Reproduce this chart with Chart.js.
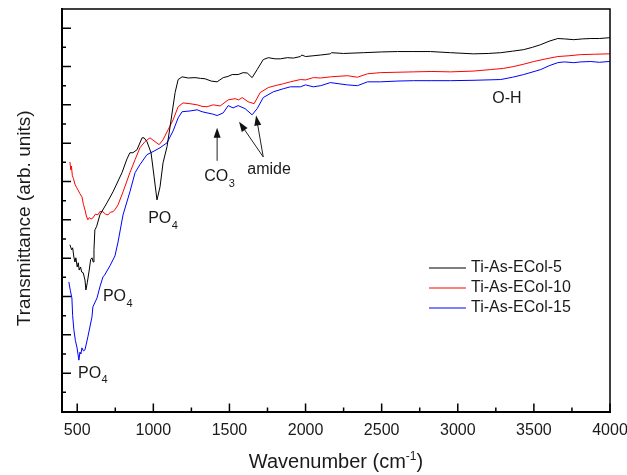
<!DOCTYPE html>
<html>
<head>
<meta charset="utf-8">
<script src="https://cdn.jsdelivr.net/npm/chart.js@4.4.0/dist/chart.umd.min.js"></script>
<style>
body { margin: 0; background: #fff; }
#wrap { width: 627px; height: 475px; }
</style>
</head>
<body>
<div id="wrap"><canvas id="myChart" width="627" height="475"></canvas></div>
<script>
// series labels
var nomes = ['Ti-As-ECol-5', 'Ti-As-ECol-10', 'Ti-As-ECol-15'];
var cores = ['#000000', '#ff0000', '#0000ff'];

// Ti-As-ECol-5
var wn5 = [452,463,470,478,485,491,500,507,513,522,529,539,551,557,566,579,588,597,605,610,616,627,649,695,735,794,827,846,866,893,926,939,958,985,1005,1024,1044,1064,1090,1110,1143,1163,1189,1230,1274,1310,1340,1380,1419,1459,1490,1518,1557,1590,1617,1649,1682,1722,1755,1800,1834,1880,1920,1966,1975,2000,2050,2100,2163,2170,2250,2380,2500,2604,2700,2821,2953,3104,3200,3282,3360,3433,3490,3545,3600,3657,3700,3762,3820,3874,3930,3993,4000];
var tr5 = [43.5,42.2,42.7,40.3,39.0,40.1,37.7,38.8,36.9,37.7,36.4,36.2,34.3,31.7,33.6,36.9,39.6,40.1,39.0,42.2,47.4,48.2,51.3,54.4,57.3,62.3,65.9,67.5,67.5,68.3,71.4,71.4,70.4,67.5,61.2,55.2,58.6,64.9,69.1,74.3,83.2,86.6,87.3,87.0,87.1,86.9,86.8,86.2,86.0,87.1,87.4,87.9,87.9,88.4,88.3,87.1,89.2,91.8,92.3,92.0,92.0,92.3,92.2,92.6,93.0,92.6,92.8,93.0,93.3,93.6,93.4,93.6,93.8,93.9,93.9,93.9,93.6,93.3,93.4,93.6,94.0,94.4,95.0,95.7,96.6,97.3,97.2,97.0,97.2,97.3,97.3,97.5,97.5];

// Ti-As-ECol-10
var wn10 = [452,458,462,468,475,485,495,505,518,531,541,551,560,570,580,590,603,620,636,650,669,685,702,718,735,750,768,801,846,880,912,945,978,1011,1038,1064,1097,1130,1163,1195,1240,1288,1320,1353,1393,1439,1492,1537,1560,1584,1623,1662,1702,1755,1800,1854,1900,1966,2000,2051,2100,2163,2275,2341,2407,2492,2600,2710,2830,2953,3100,3216,3300,3368,3433,3499,3580,3657,3730,3808,3900,3993,4000];
var tr10 = [65.1,63.0,64.0,61.5,60.8,59.3,58.5,57.8,56.8,56.0,54.0,52.6,51.0,50.0,50.6,50.2,50.5,51.5,51.3,52.2,52.1,51.5,51.3,52.0,52.1,52.8,53.9,57.3,62.3,65.7,68.8,70.4,71.4,70.4,69.6,70.9,73.5,76.1,79.5,80.5,80.3,80.0,79.6,79.5,80.0,79.7,81.3,81.6,81.3,81.9,80.8,80.3,83.2,84.5,85.0,85.5,86.0,86.6,86.5,87.1,87.0,87.3,87.6,87.2,88.1,88.4,88.5,88.6,88.7,88.6,88.8,89.2,89.5,90.0,90.6,91.3,92.0,92.6,92.8,93.1,93.2,93.3,93.3];

// Ti-As-ECol-15
var wn15 = [445,455,465,470,478,488,498,505,511,518,524,531,541,551,570,597,603,630,649,669,680,715,748,768,801,846,880,912,958,998,1044,1090,1130,1163,1189,1241,1288,1320,1353,1390,1419,1459,1492,1524,1557,1603,1649,1682,1722,1788,1854,1900,1966,2000,2051,2100,2163,2275,2341,2407,2492,2600,2710,2830,2953,3100,3282,3360,3433,3545,3600,3657,3700,3762,3808,3874,3930,3993,4000];
var tr15 = [33.8,31.5,29.6,25.0,21.3,18.5,16.8,15.0,13.4,15.5,15.0,16.6,15.8,16.1,19.5,24.7,27.3,29.6,32.5,35.1,35.6,38.0,40.6,44.2,51.3,57.3,62.3,64.4,67.0,67.8,68.8,70.1,73.2,76.6,78.2,78.4,78.7,78.2,77.9,77.6,77.2,77.9,79.8,79.2,79.8,79.0,77.4,79.0,81.9,83.4,84.2,84.7,84.7,85.2,84.7,85.0,85.8,85.2,85.0,86.0,86.0,86.2,86.3,86.3,86.3,86.4,86.6,87.2,87.9,89.2,90.2,91.0,91.2,91.0,91.2,91.3,91.1,91.3,91.3];

// axis ticks
var xTicks = [500,1000,1500,2000,2500,3000,3500,4000];
var xMinor = [750,1250,1750,2250,2750,3250,3750];
var yTicks = [10,20,30,40,50,60,70,80,90,100];
var yMinor = [5,15,25,35,45,55,65,75,85,95];

// annotations (wavenumber, transmittance)
var notas = [
    {text: 'PO', sub: '4', x: 966, y: 50.3},
    {text: 'CO', sub: '3', x: 1334, y: 61.2},
    {text: 'amide', sub: '', x: 1617, y: 63.0},
    {text: 'PO', sub: '4', x: 669, y: 29.9},
    {text: 'PO', sub: '4', x: 505, y: 10.0},
    {text: 'O-H', sub: '', x: 3227, y: 81.6}
];
var setas = [
    [1419, 65.4, 1419, 74.0],
    [1722, 66.4, 1563, 75.6],
    [1722, 66.4, 1675, 77.2]
];

var fonte = '"Liberation Sans", Arial, sans-serif';
var corTexto = '#1a1a1a';

function pontos(xs, ys){
    var p = [];
    for (var i = 0; i < xs.length; i++) p.push({x: xs[i], y: ys[i]});
    return p;
}

var moldura = {
    id: 'moldura',
    afterDraw: function(chart){
        var c = chart.ctx, a = chart.chartArea;
        var sx = chart.scales.x, sy = chart.scales.y;
        c.save();
        c.strokeStyle = '#000';
        c.lineWidth = 1.5;
        c.beginPath();
        c.moveTo(a.left, a.top); c.lineTo(a.right, a.top); c.lineTo(a.right, a.bottom);
        c.stroke();

        // inward ticks
        c.lineWidth = 1.5;
        c.beginPath();
        xTicks.forEach(function(v){ var px = sx.getPixelForValue(v); c.moveTo(px, a.bottom); c.lineTo(px, a.bottom - 8); });
        xMinor.forEach(function(v){ var px = sx.getPixelForValue(v); c.moveTo(px, a.bottom); c.lineTo(px, a.bottom - 4); });
        yTicks.forEach(function(v){ var py = sy.getPixelForValue(v); c.moveTo(a.left, py); c.lineTo(a.left + 9, py); });
        yMinor.forEach(function(v){ var py = sy.getPixelForValue(v); c.moveTo(a.left, py); c.lineTo(a.left + 4, py); });
        c.stroke();

        // axis titles
        c.fillStyle = corTexto;
        c.textBaseline = 'alphabetic';
        c.font = '20px ' + fonte;
        var t1 = 'Wavenumber (cm', t2 = '-1', t3 = ')';
        var w1 = c.measureText(t1).width, w3 = c.measureText(t3).width;
        c.font = '12px ' + fonte;
        var w2 = c.measureText(t2).width;
        var x0 = (a.left + a.right) / 2 - (w1 + w2 + w3) / 2;
        c.textAlign = 'left';
        c.font = '20px ' + fonte;
        c.fillText(t1, x0, 468);
        c.fillText(t3, x0 + w1 + w2, 468);
        c.font = '12px ' + fonte;
        c.fillText(t2, x0 + w1, 460);

        c.save();
        c.translate(30, (a.top + a.bottom) / 2 + 8);
        c.rotate(-Math.PI / 2);
        c.textAlign = 'center';
        c.font = '19px ' + fonte;
        c.fillText('Transmittance (arb. units)', 0, 0);
        c.restore();

        // annotations
        c.textBaseline = 'middle';
        c.textAlign = 'left';
        notas.forEach(function(n){
            var px = sx.getPixelForValue(n.x), py = sy.getPixelForValue(n.y);
            c.font = '16px ' + fonte;
            c.fillText(n.text, px, py);
            if (n.sub) {
                var w = c.measureText(n.text).width;
                c.font = '11px ' + fonte;
                c.fillText(n.sub, px + w + 0.5, py + 7);
            }
        });

        c.strokeStyle = '#222';
        c.fillStyle = '#111';
        c.lineWidth = 1;
        setas.forEach(function(s){
            var x1 = sx.getPixelForValue(s[0]), y1 = sy.getPixelForValue(s[1]);
            var x2 = sx.getPixelForValue(s[2]), y2 = sy.getPixelForValue(s[3]);
            var ang = Math.atan2(y2 - y1, x2 - x1), co = Math.cos(ang), si = Math.sin(ang);
            c.beginPath();
            c.moveTo(x1, y1); c.lineTo(x2 - 7 * co, y2 - 7 * si);
            c.stroke();
            c.beginPath();
            c.moveTo(x2, y2);
            c.lineTo(x2 - 10 * co + 3.5 * si, y2 - 10 * si - 3.5 * co);
            c.lineTo(x2 - 10 * co - 3.5 * si, y2 - 10 * si + 3.5 * co);
            c.closePath();
            c.fill();
        });

        // legend
        c.font = '16px ' + fonte;
        c.lineWidth = 1;
        chart.data.datasets.forEach(function(d, i){
            var ly = 268 + i * 20;
            c.strokeStyle = d.borderColor;
            c.beginPath(); c.moveTo(429, ly); c.lineTo(466, ly); c.stroke();
            c.fillStyle = corTexto;
            c.fillText(d.label, 471, ly);
        });
        c.restore();
    }
};

var ctx = document.getElementById('myChart');
var myChart = new Chart(ctx, {
    type: 'line',
    data: {
        datasets: [
            {label: nomes[0], data: pontos(wn5, tr5), borderColor: cores[0]},
            {label: nomes[1], data: pontos(wn10, tr10), borderColor: cores[1]},
            {label: nomes[2], data: pontos(wn15, tr15), borderColor: cores[2]}
        ]
    },
    options: {
        responsive: false,
        animation: false,
        layout: { padding: { top: 9, right: 0, left: 0, bottom: 0 } },
        elements: {
            line: { borderWidth: 1, tension: 0, fill: false },
            point: { radius: 0 }
        },
        plugins: { legend: { display: false }, tooltip: { enabled: false } },
        scales: {
            x: {
                type: 'linear',
                min: 400,
                max: 4000,
                afterBuildTicks: function(axis){ axis.ticks = xTicks.map(function(v){ return {value: v}; }); },
                afterFit: function(axis){
                    axis.height = 63.5;
                    axis.paddingLeft = 0;
                    axis.paddingRight = 17;
                },
                grid: { display: false, drawTicks: false },
                border: { display: true, color: '#000', width: 2 },
                ticks: {
                    padding: 9,
                    maxRotation: 0,
                    color: corTexto,
                    font: { family: fonte, size: 16 },
                    callback: function(v){ return v; }
                }
            },
            y: {
                type: 'linear',
                min: 0,
                max: 105,
                afterFit: function(axis){ axis.width = 62; },
                grid: { display: false, drawTicks: false },
                border: { display: true, color: '#000', width: 2 },
                ticks: { display: false }
            }
        }
    },
    plugins: [moldura]
});
</script>
</body>
</html>
